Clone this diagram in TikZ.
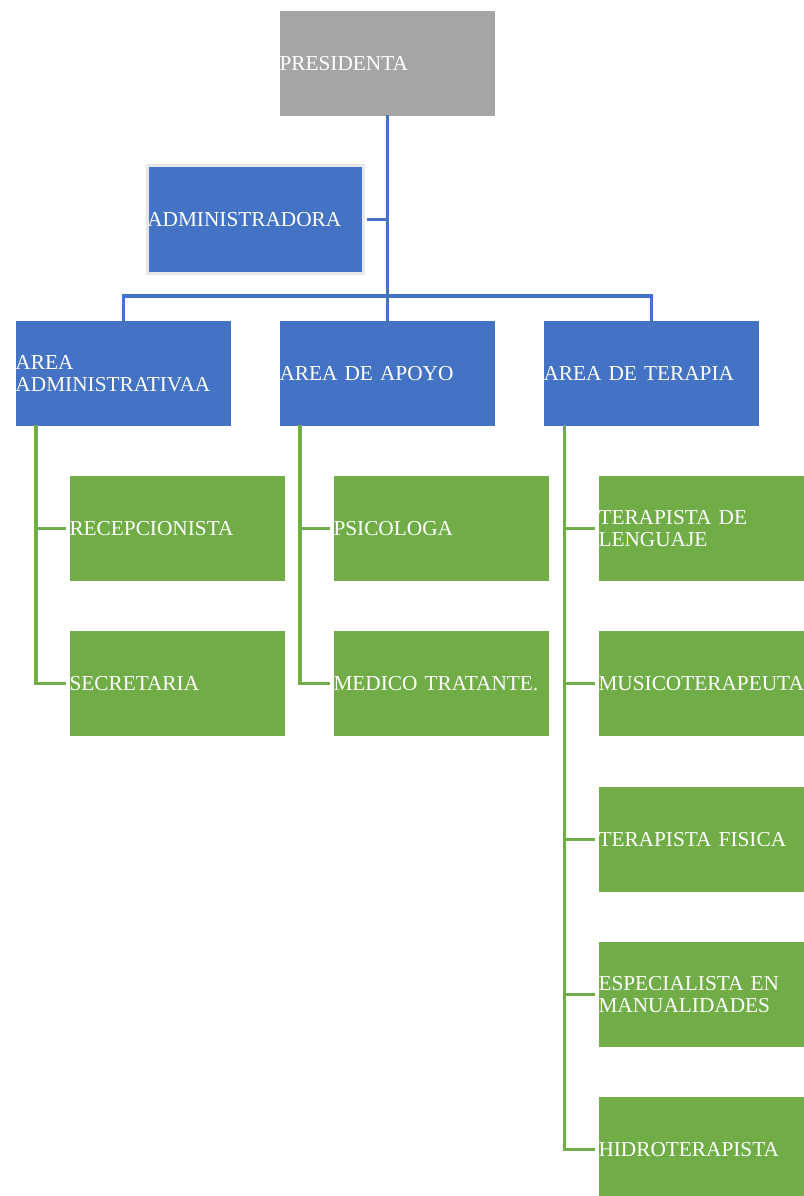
\documentclass[tikz,border=0pt]{standalone}
\usepackage{fontspec}
\setmainfont{Liberation Serif}
\definecolor{bblue}{HTML}{4472C4}
\definecolor{ggreen}{HTML}{70AD47}
\definecolor{ggray}{HTML}{A5A5A5}
\begin{document}
\begin{tikzpicture}[x=1pt,y=-1pt,
  box/.style={anchor=north west, inner sep=0pt, minimum height=106pt, text width=216pt,
    align=left, font=\fontsize{21.3}{22.5}\selectfont, text=white, draw=white, line width=1pt},
  graybox/.style={box, fill=ggray},
  bluebox/.style={box, fill=bblue},
  greenbox/.style={box, fill=ggreen},
  bl/.style={draw=bblue, line width=3.2pt},
  gl/.style={draw=ggreen, line width=3.2pt}]
\useasboundingbox (0,0) rectangle (803,1196);
\fill[white] (0,0) rectangle (803,1196);
\node[graybox] (pres) at (279,10) {PRESIDENTA};
\node[bluebox, draw=gray!18, line width=2.5pt, minimum height=108pt] (admin) at (146,164) {ADMINISTRADORA};
\node[bluebox] (a1) at (15,320) {AREA\\ADMINISTRATIVAA};
\node[bluebox] (a2) at (279,320) {AREA DE APOYO};
\node[bluebox] (a3) at (543,320) {AREA DE TERAPIA};
\node[greenbox] (g11) at (69,475) {RECEPCIONISTA};
\node[greenbox] (g12) at (69,630) {SECRETARIA};
\node[greenbox] (g21) at (333,475) {PSICOLOGA};
\node[greenbox] (g22) at (333,630) {MEDICO TRATANTE.};
\node[greenbox] (g31) at (598,475) {TERAPISTA DE\\LENGUAJE};
\node[greenbox] (g32) at (598,630) {MUSICOTERAPEUTA};
\node[greenbox] (g33) at (598,786) {TERAPISTA FISICA};
\node[greenbox] (g34) at (598,941) {ESPECIALISTA EN\\MANUALIDADES};
\node[greenbox] (g35) at (598,1096) {HIDROTERAPISTA};
\coordinate (bus) at (0,296);
\draw[bl] ([yshift=2pt]pres.south) -- ([yshift=-2pt]pres.south |- a2.north);
\draw[bl] ([xshift=2pt]admin.east) -- (admin.east -| pres.south);
\draw[bl] ([yshift=-2pt]a1.north) -- (a1.north |- bus) -- (a3.north |- bus) -- ([yshift=-2pt]a3.north);
\draw[gl] ([xshift=21pt,yshift=2pt]a1.south west) |- ([xshift=-3pt]g12.west);
\draw[gl] ([xshift=21pt,yshift=2pt]a1.south west) |- ([xshift=-3pt]g11.west);
\draw[gl] ([xshift=21pt,yshift=2pt]a2.south west) |- ([xshift=-3pt]g22.west);
\draw[gl] ([xshift=21pt,yshift=2pt]a2.south west) |- ([xshift=-3pt]g21.west);
\foreach \g in {g31,g32,g33,g34,g35}
  \draw[gl] ([xshift=21.5pt,yshift=2pt]a3.south west) |- ([xshift=-3pt]\g.west);
\end{tikzpicture}
\end{document}
